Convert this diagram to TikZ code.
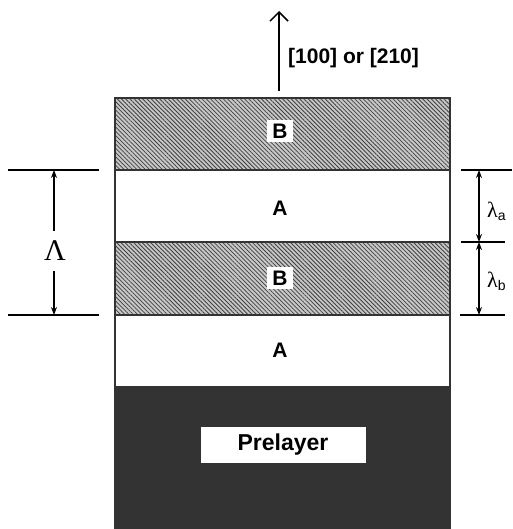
\documentclass[tikz,border=0pt]{standalone}
\usepackage{fontspec}
\setmainfont{Liberation Sans}
\newfontfamily\grk{Liberation Serif}
\usetikzlibrary{patterns.meta,arrows.meta}
\tikzset{
  hatch/.style={fill=black!22,postaction={pattern={Lines[angle=-45,distance=3pt,line width=0.8pt]},pattern color=black!75}},
  border/.style={draw=black!80,line width=1.2pt},
  lbl/.style={font=\bfseries\fontsize{21}{24}\selectfont,inner sep=0pt},
  wlbl/.style={lbl,fill=white,inner xsep=5pt,inner ysep=4pt},
  dimline/.style={line width=1.8pt},
  dimarr/.style={line width=1.2pt,-{Stealth[length=8pt,width=6pt]}},
  dbl/.style={line width=1.2pt,{Stealth[length=8pt,width=6pt]}-{Stealth[length=8pt,width=6pt]}},
  grklbl/.style={font=\grk\fontsize{30}{33}\selectfont,inner xsep=2pt,inner ysep=10pt},
  lamsub/.style={anchor=west,inner sep=0pt},
}
\begin{document}
\begin{tikzpicture}[x=1pt,y=-1pt]
\useasboundingbox (0,0) rectangle (512,529);
% layers
\path[hatch] (115,98) rectangle (450,170);
\path[fill=white] (115,170) rectangle (450,242);
\path[hatch] (115,242) rectangle (450,315);
\path[fill=white] (115,315) rectangle (450,387);
\path[fill=black!80] (115,387) rectangle (450,529);
\draw[border] (115,529) -- (115,98) -- (450,98) -- (450,529);
\draw[border] (115,170) -- (450,170);
\draw[border] (115,242) -- (450,242);
\draw[border] (115,315) -- (450,315);
\draw[border] (115,387) -- (450,387);
% labels
\node[wlbl] (B1) at (280,131) {B};
\node[lbl] (A1) at (280,208) {A};
\node[wlbl] (B2) at (280,278) {B};
\node[lbl] (A2) at (280,350) {A};
\node[lbl,font=\bfseries\fontsize{23}{26}\selectfont,fill=white,minimum width=165pt,minimum height=36pt] (P) at (283,445) {Prelayer};
% growth direction
\coordinate (g0) at (279,91);
\coordinate (g1) at (279,11);
\draw[line width=1.8pt,-{Straight Barb[length=9pt,width=18pt,line width=1.5pt]}] (g0) -- (g1);
\node[lbl,anchor=west] (dir) at (288,58) {[100] or [210]};
% left dimension
\coordinate (L1a) at (8,170); \coordinate (L1b) at (99,170);
\coordinate (L2a) at (8,315); \coordinate (L2b) at (99,315);
\coordinate (L1m) at (54,170); \coordinate (L2m) at (54,315);
\draw[dimline] (L1a) -- (L1b);
\draw[dimline] (L2a) -- (L2b);
\node[grklbl] (Lam) at (55,251) {Λ};
\draw[dimarr] (Lam.north -| L1m) -- (L1m);
\draw[dimarr] (Lam.south -| L2m) -- (L2m);
% right dimensions
\coordinate (R1a) at (461,170); \coordinate (R1b) at (512,170);
\coordinate (R2a) at (461,242); \coordinate (R2b) at (505,242);
\coordinate (R3a) at (460,315); \coordinate (R3b) at (505,315);
\coordinate (R1m) at (479,170); \coordinate (R2m) at (479,242); \coordinate (R3m) at (479,315);
\draw[dimline] (R1a) -- (R1b);
\draw[dimline] (R2a) -- (R2b);
\draw[dimline] (R3a) -- (R3b);
\draw[dbl] (R1m) -- (R2m);
\draw[dbl] (R2m) -- (R3m);
\node[lamsub] (la) at (487,211) {\grk\fontsize{22}{24}\selectfont λ\raisebox{-0.3ex}{\fontspec{Liberation Sans}\fontsize{14}{16}\selectfont a}};
\node[lamsub] (lb) at (487,281) {\grk\fontsize{22}{24}\selectfont λ\raisebox{-0.3ex}{\fontspec{Liberation Sans}\fontsize{14}{16}\selectfont b}};
\end{tikzpicture}
\end{document}
